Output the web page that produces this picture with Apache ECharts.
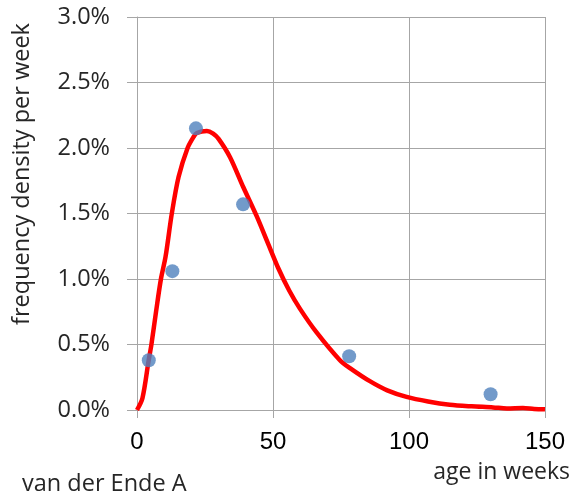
<!DOCTYPE html>
<html>
<head>
<meta charset="utf-8">
<script src="https://cdn.jsdelivr.net/npm/echarts@6/dist/echarts.min.js"></script>
<style>
  html, body { margin: 0; padding: 0; background: #fff; }
  #chart { width: 576px; height: 497px; }
</style>
</head>
<body>
<div id="chart"></div>
<script>
// Observed frequency density per week (%), plotted at the middle of each age class (weeks)
const observedAges = [4.33, 13, 21.67, 39, 78, 130];
const observedDensity = [0.38, 1.06, 2.15, 1.57, 0.41, 0.12];

// Fitted density curve (%), read along the age axis (weeks)
const fitAges = [0, 2, 4.3, 5.3, 7, 8.8, 10.5, 12.8, 15.3, 18.6, 20.8, 22, 25.7, 28, 30, 34.2, 39.1, 44, 48, 52, 56, 60, 66.1, 74.6, 78.3, 85.6, 92, 99.1, 107, 115, 123, 130.9, 136, 141.9, 146, 150];
const fitDensity = [0, 0.09, 0.38, 0.5, 0.75, 1.0, 1.17, 1.5, 1.78, 2.0, 2.085, 2.115, 2.13, 2.11, 2.07, 1.93, 1.70, 1.48, 1.28, 1.08, 0.91, 0.77, 0.59, 0.38, 0.32, 0.22, 0.15, 0.10, 0.065, 0.04, 0.028, 0.02, 0.012, 0.015, 0.008, 0.005];

// Axis tick values
const xTicks = [0, 50, 100, 150];
const yTicks = [0, 0.5, 1.0, 1.5, 2.0, 2.5, 3.0];

const chart = echarts.init(document.getElementById('chart'), null, { renderer: 'canvas' });
const gridColor = '#a6a6a6';
const textColor = '#262626';

chart.setOption({
  backgroundColor: '#ffffff',
  animation: false,
  grid: { left: 137, right: 31, top: 17, bottom: 87, containLabel: false },
  xAxis: {
    type: 'value',
    min: xTicks[0],
    max: xTicks[xTicks.length - 1],
    interval: 50,
    axisLine: { show: true, lineStyle: { color: gridColor, width: 1 } },
    axisTick: { show: true, length: 8, lineStyle: { color: gridColor, width: 1 } },
    splitLine: { show: true, lineStyle: { color: gridColor, width: 1 } },
    axisLabel: {
      margin: 20,
      color: '#000',
      fontFamily: 'Liberation Sans',
      fontSize: 24
    }
  },
  yAxis: {
    type: 'value',
    min: yTicks[0],
    max: yTicks[yTicks.length - 1],
    interval: 0.5,
    axisLine: { show: true, lineStyle: { color: gridColor, width: 1 } },
    axisTick: { show: true, length: 10, lineStyle: { color: gridColor, width: 1 } },
    splitLine: { show: true, lineStyle: { color: gridColor, width: 1 } },
    axisLabel: {
      margin: 27,
      color: textColor,
      fontFamily: 'Open Sans',
      fontSize: 23.5,
      formatter: v => v.toFixed(1) + '%'
    }
  },
  graphic: [
    {
      type: 'text',
      x: 22,
      y: 174,
      rotation: Math.PI / 2,
      style: {
        text: 'frequency density per week',
        fill: textColor,
        font: '23.5px "Open Sans"',
        align: 'center',
        verticalAlign: 'middle'
      }
    },
    {
      type: 'text',
      x: 570,
      y: 472,
      style: {
        text: 'age in weeks',
        fill: textColor,
        font: '23px "Open Sans"',
        align: 'right',
        verticalAlign: 'middle'
      }
    },
    {
      type: 'text',
      x: 22,
      y: 484,
      style: {
        text: 'van der Ende A',
        fill: textColor,
        font: '23.5px "Open Sans"',
        align: 'left',
        verticalAlign: 'middle'
      }
    }
  ],
  series: [
    {
      type: 'line',
      data: fitAges.map((a, i) => [a, fitDensity[i]]),
      smooth: 0.3,
      showSymbol: false,
      lineStyle: { color: '#ff0000', width: 4.5 },
      z: 2
    },
    {
      type: 'scatter',
      data: observedAges.map((a, i) => [a, observedDensity[i]]),
      symbol: 'circle',
      symbolSize: 14,
      itemStyle: { color: '#4f81bd' },
      z: 3
    }
  ]
});
</script>
</body>
</html>
